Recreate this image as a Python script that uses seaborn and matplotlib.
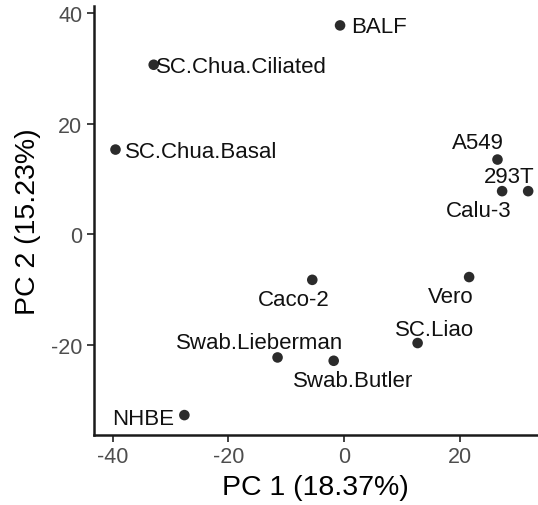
import matplotlib
matplotlib.use("Agg")
import matplotlib.pyplot as plt
import seaborn as sns
import pandas as pd

# PCA coordinates of each sample group
samples = ["BALF", "SC.Chua.Ciliated", "SC.Chua.Basal", "A549", "293T", "Calu-3",
           "Caco-2", "Vero", "SC.Liao", "Swab.Lieberman", "Swab.Butler", "NHBE"]
pc1 = [-0.7, -32.9, -39.5, 26.5, 31.8, 27.3, -5.5, 21.6, 12.7, -11.5, -1.8, -27.6]
pc2 = [37.7, 30.6, 15.3, 13.5, 7.8, 7.8, -8.2, -7.7, -19.6, -22.2, -22.8, -32.6]

x_title = "PC 1 (18.37%)"
y_title = "PC 2 (15.23%)"
x_ticks = [-40, -20, 0, 20]
y_ticks = [-20, 0, 20, 40]

# label placement: offset from the point in pixels (right, down) and alignment
label_offsets = {
    "BALF": (10.7, 1.5, "left"),
    "SC.Chua.Ciliated": (2.6, 1.5, "left"),
    "SC.Chua.Basal": (9.0, 1.5, "left"),
    "A549": (-20.0, -16.8, "center"),
    "293T": (-19.4, -14.5, "center"),
    "Calu-3": (-23.4, 19.5, "center"),
    "Caco-2": (-18.3, 19.8, "center"),
    "Vero": (-18.7, 19.9, "center"),
    "SC.Liao": (17.0, -13.9, "center"),
    "Swab.Lieberman": (-18.0, -14.9, "center"),
    "Swab.Butler": (19.0, 20.2, "center"),
    "NHBE": (-10.4, 3.1, "right"),
}

df = pd.DataFrame({"sample": samples, "PC1": pc1, "PC2": pc2})

sns.set_theme(style="ticks")
plt.rcParams["font.family"] = ["Liberation Sans", "DejaVu Sans"]

DPI = 100
fig = plt.figure(figsize=(5.38, 5.06), dpi=DPI)
W, H = 538, 506
left, right, bottom, top = 93.5, 538.0, 435.5, 7.0
ax = fig.add_axes([left / W, 1 - bottom / H, (right - left) / W, (bottom - top) / H])

sns.scatterplot(data=df, x="PC1", y="PC2", ax=ax, color="#2b2b2b",
                s=58, edgecolor="none", zorder=3, clip_on=False)

px2pt = 72.0 / DPI
for name, x, y in zip(samples, pc1, pc2):
    dx, dy, ha = label_offsets[name]
    ax.annotate(name, (x, y), xytext=(dx * px2pt, -dy * px2pt),
                textcoords="offset points", ha=ha, va="center",
                fontsize=16, color="#111111", zorder=4)

ax.set_xlim(-43.3, 33.5)
ax.set_ylim(-36.1, 41.2)
ax.set_xticks(x_ticks)
ax.set_yticks(y_ticks)
ax.set_xticklabels([str(v) for v in x_ticks])
ax.set_yticklabels([str(v) for v in y_ticks])
ax.tick_params(axis="both", labelsize=15.5, labelcolor="#4d4d4d", color="#333333",
               width=1.3, length=5, pad=3)
for side in ("left", "bottom"):
    ax.spines[side].set_linewidth(1.8)
    ax.spines[side].set_color("#1a1a1a")
sns.despine(ax=ax)

ax.set_xlabel(x_title, fontsize=20.5, color="black", labelpad=5)
ax.set_ylabel(y_title, fontsize=20.5, color="black", labelpad=7)

fig.savefig("out.png", dpi=DPI)
